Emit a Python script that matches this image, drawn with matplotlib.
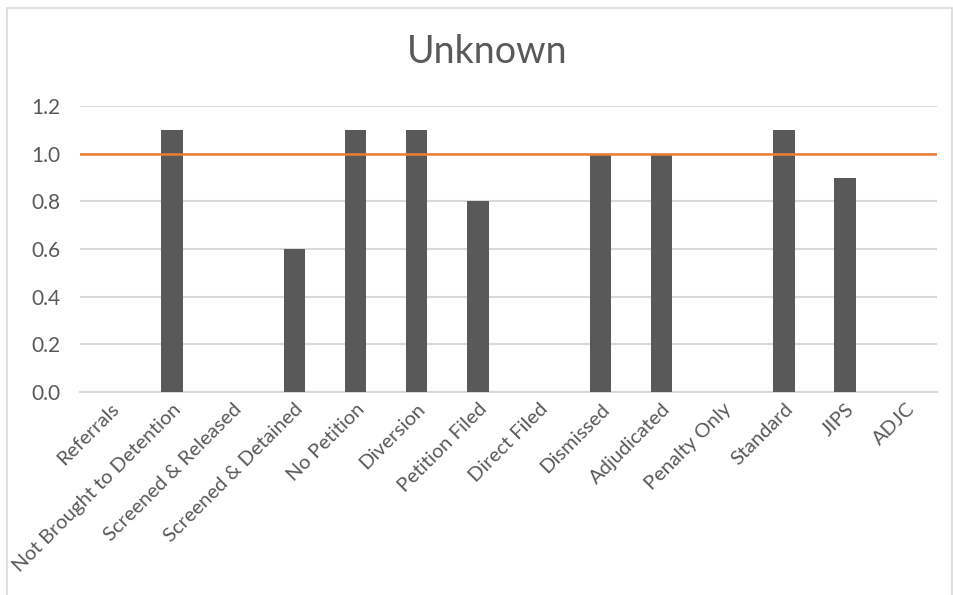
import matplotlib
matplotlib.use("Agg")
import matplotlib.pyplot as plt
import numpy as np
from matplotlib.patches import Rectangle

categories = ["Referrals", "Not Brought to Detention", "Screened & Released",
              "Screened & Detained", "No Petition", "Diversion", "Petition Filed",
              "Direct Filed", "Dismissed", "Adjudicated", "Penalty Only",
              "Standard", "JIPS", "ADJC"]
values = [0, 1.1, 0, 0.6, 1.1, 1.1, 0.8, 0, 1.0, 1.0, 0, 1.1, 0.9, 0]
reference_value = 1.0
yticks = [0.0, 0.2, 0.4, 0.6, 0.8, 1.0, 1.2]

plt.rcParams['font.family'] = ['Lato', 'DejaVu Sans']
text_color = "#595959"
grid_color = "#D9D9D9"

fig = plt.figure(figsize=(9.54, 5.95), dpi=100)
ax = fig.add_axes([80/954, 1 - 392/595, (937-80)/954, (392-106)/595])

x = np.arange(len(categories))
ax.bar(x, values, width=0.35, color="#595959", zorder=3)
ax.axhline(reference_value, color="#ED7D31", lw=1.8, zorder=4)

ax.set_xlim(-0.5, len(categories) - 0.5)
ax.set_ylim(0, 1.2)
ax.set_yticks(yticks)
ax.set_yticklabels([f"{t:.1f}" for t in yticks], fontsize=15, color=text_color)
ax.yaxis.grid(True, color=grid_color, lw=1.5, zorder=0)
ax.tick_params(axis='y', length=0, pad=14)
ax.tick_params(axis='x', length=0, pad=6)

ax.set_xticks(x)
ax.set_xticklabels(categories, rotation=45, ha='right', rotation_mode='anchor',
                   fontsize=14.5, color=text_color)

for side in ['top', 'right', 'left']:
    ax.spines[side].set_visible(False)
ax.spines['bottom'].set_color(grid_color)
ax.spines['bottom'].set_linewidth(1.5)

fig.text(487/954, 1 - 52/595, "Unknown", ha='center', va='center',
         fontsize=27, color=text_color)

# chart frame
fig.patches.append(Rectangle((7/954, -0.01), (952-7)/954, 1 - 8/595 + 0.01,
                             transform=fig.transFigure, fill=False,
                             edgecolor=grid_color, lw=1.2))

fig.savefig("out.png", dpi=100)
